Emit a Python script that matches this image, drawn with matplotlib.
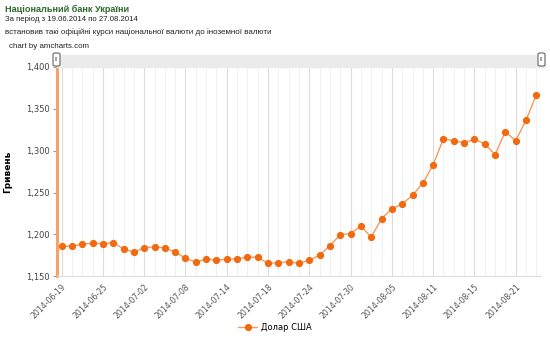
import matplotlib
matplotlib.use("Agg")
from matplotlib import pyplot as plt
from matplotlib.patches import Rectangle, FancyBboxPatch

# data (UAH per 100 USD)
dates = ["2014-06-19", "2014-06-20", "2014-06-23", "2014-06-24", "2014-06-25",
         "2014-06-26", "2014-06-27", "2014-07-01", "2014-07-02", "2014-07-03",
         "2014-07-04", "2014-07-07", "2014-07-08", "2014-07-09", "2014-07-10",
         "2014-07-11", "2014-07-14", "2014-07-15", "2014-07-16", "2014-07-17",
         "2014-07-18", "2014-07-21", "2014-07-22", "2014-07-23", "2014-07-24",
         "2014-07-25", "2014-07-28", "2014-07-29", "2014-07-30", "2014-07-31",
         "2014-08-01", "2014-08-04", "2014-08-05", "2014-08-06", "2014-08-07",
         "2014-08-08", "2014-08-11", "2014-08-12", "2014-08-13", "2014-08-14",
         "2014-08-15", "2014-08-18", "2014-08-19", "2014-08-20", "2014-08-21",
         "2014-08-22", "2014-08-26"]
usd = [1185.9, 1185.9, 1188.6, 1189.5, 1189.0, 1190.2, 1182.7, 1179.1, 1183.9, 1185.4,
       1183.9, 1179.1, 1171.6, 1167.2, 1170.4, 1169.6, 1170.4, 1171.1, 1172.8, 1172.8,
       1165.6, 1166.3, 1167.5, 1165.6, 1169.2, 1175.5, 1186.6, 1199.8, 1201.0, 1210.1,
       1196.7, 1218.9, 1230.4, 1236.4, 1246.8, 1261.0, 1282.9, 1314.3, 1311.6, 1309.5,
       1313.6, 1308.0, 1295.2, 1322.7, 1311.6, 1336.3, 1366.5]
yticks = [1150, 1200, 1250, 1300, 1350, 1400]
ytick_labels = ["1,150", "1,200", "1,250", "1,300", "1,350", "1,400"]

W, H = 550, 339
fig = plt.figure(figsize=(5.5, 3.39), dpi=100)
ax = fig.add_axes([56.5 / W, 1 - 276.4 / H, (541.5 - 56.5) / W, (276.4 - 66.7) / H])

x = list(range(len(dates)))

# vertical grid, darker where a label sits
for i in x:
    ax.axvline(i, color="#dcdcdc" if i % 4 == 0 else "#f0f0f0", lw=0.8, zorder=0)

ax.plot(x, usd, color="#f59a5c", lw=1, zorder=2)
ax.plot(x, usd, "o", color="#f26a10", ms=4.2, zorder=3)

ax.set_xlim(-0.5, len(dates) - 0.5)
ax.set_ylim(1150, 1400)
ax.set_yticks(yticks)
ax.set_yticklabels(ytick_labels, fontsize=6, color="#444444")
ax.set_xticks(x[::4])
ax.set_xticklabels(dates[::4], rotation=45, ha="right", rotation_mode="anchor",
                   fontsize=5.6, color="#555555")
ax.tick_params(axis="y", length=3, color="#999999", pad=2)
ax.tick_params(axis="x", length=0, pad=4)

for s in ["top", "right"]:
    ax.spines[s].set_visible(False)
ax.spines["bottom"].set_color("#dddddd")
ax.spines["left"].set_color("#f4a46a")
ax.spines["left"].set_linewidth(2.2)

ax.set_ylabel("Гривень", fontsize=6.5, fontweight="bold", labelpad=10)

# scrollbar band and grips above the plot
fig.patches.append(Rectangle((57 / W, 1 - 66.5 / H), (545 - 57) / W, 11.5 / H,
                             transform=fig.transFigure, color="#ebebeb", zorder=0))
for gx in [56.5, 541.5]:
    fig.patches.append(FancyBboxPatch(((gx - 3.5) / W, 1 - 66 / H), 7 / W, 13 / H,
                                      boxstyle="round,pad=0,rounding_size=0.004",
                                      transform=fig.transFigure, facecolor="white",
                                      edgecolor="#666666", lw=0.8, zorder=5))
    fig.text(gx / W, 1 - 59.5 / H, "II", fontsize=4, color="#555555",
             ha="center", va="center", zorder=6)

# header texts
hdr = "Liberation Sans"
fig.text(5 / W, 1 - 9 / H, "Національний банк України", fontsize=6.6, family=hdr,
         fontweight="bold", color="#2d6b2d", va="center")
fig.text(5 / W, 1 - 19 / H, "За період з 19.06.2014 по 27.08.2014", fontsize=5.6,
         family=hdr, color="#222222", va="center")
fig.text(5 / W, 1 - 32 / H, "встановив такі офіційні курси національної валюти до іноземної валюти",
         fontsize=5.8, family=hdr, color="#222222", va="center")
fig.text(9 / W, 1 - 47 / H, "chart by amcharts.com", fontsize=5.7, family=hdr,
         color="#222222", va="center")

fig.legend(loc="center", bbox_to_anchor=(0.5, 1 - 327 / H), frameon=False,
           fontsize=6, handlelength=2.2, handletextpad=0.5,
           handles=[plt.Line2D([], [], color="#f59a5c", lw=1, marker="o",
                               mfc="#f26a10", mec="#f26a10", ms=4.2)],
           labels=["Долар США"])

fig.savefig("out.png", dpi=100)
